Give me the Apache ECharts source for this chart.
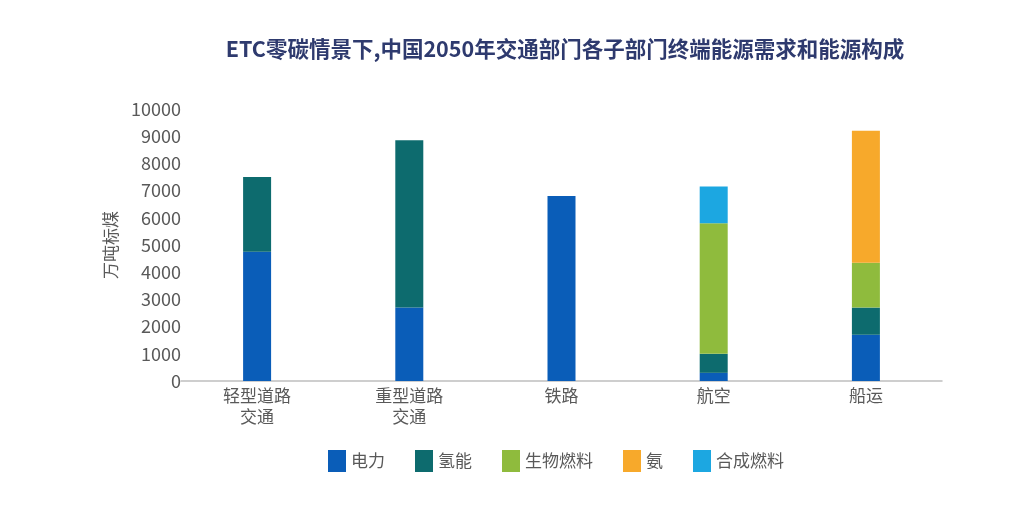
<!DOCTYPE html>
<html><head><meta charset="utf-8">
<script src="https://cdn.jsdelivr.net/npm/echarts@6/dist/echarts.min.js"></script>
<style>html,body{margin:0;padding:0;background:#fff}#c{width:1024px;height:516px}</style>
</head><body><div id="c"></div>
<script>
const categories = ['轻型道路\n交通', '重型道路\n交通', '铁路', '航空', '船运'];
const electricity = [4750, 2700, 6800, 300, 1700];
const hydrogen = [2750, 6150, 0, 700, 1000];
const biofuel = [0, 0, 0, 4800, 1650];
const ammonia = [0, 0, 0, 0, 4850];
const synfuel = [0, 0, 0, 1350, 0];
const yTicks = [0, 1000, 2000, 3000, 4000, 5000, 6000, 7000, 8000, 9000, 10000];
const seriesNames = ['电力', '氢能', '生物燃料', '氨', '合成燃料'];
const colors = ['#0a5db8', '#0d6b6e', '#8fbb3d', '#f7a92b', '#1ca7e1'];
const font = '"Noto Sans CJK SC", "Noto Sans", sans-serif';
const dataSets = [electricity, hydrogen, biofuel, ammonia, synfuel];
const chart = echarts.init(document.getElementById('c'));
chart.setOption({
  animation: false,
  textStyle: { fontFamily: font },
  title: {
    text: 'ETC零碳情景下,中国2050年交通部门各子部门终端能源需求和能源构成',
    left: 560, top: 33, textAlign: 'center',
    textStyle: { fontFamily: font, fontSize: 21.5, fontWeight: 'bold', color: '#2e3a6e' }
  },
  legend: {
    data: seriesNames,
    left: 323, top: 445,
    itemWidth: 18, itemHeight: 22, itemGap: 30,
    icon: 'rect',
    textStyle: { fontFamily: font, fontSize: 17, color: '#595959' }
  },
  grid: { left: 181, width: 761, top: 109, height: 272 },
  xAxis: {
    type: 'category', data: categories,
    axisLine: { lineStyle: { color: '#bfbfbf', width: 1.5 } },
    axisTick: { show: false },
    axisLabel: { fontFamily: font, fontSize: 17, color: '#595959', margin: 4, lineHeight: 21 }
  },
  yAxis: {
    type: 'value', min: 0, max: 10000, interval: 1000,
    name: '万吨标煤', nameLocation: 'middle', nameGap: 62, nameRotate: 90,
    nameTextStyle: { fontFamily: font, fontSize: 17, color: '#595959' },
    splitLine: { show: false }, axisLine: { show: false }, axisTick: { show: false },
    axisLabel: { fontFamily: font, fontSize: 18, color: '#595959', margin: 0,
      formatter: v => yTicks.includes(v) ? String(v) : '' }
  },
  series: dataSets.map((d, i) => ({
    name: seriesNames[i], type: 'bar', stack: 'total', barWidth: 28,
    itemStyle: { color: colors[i] },
    data: d
  }))
});
</script></body></html>
